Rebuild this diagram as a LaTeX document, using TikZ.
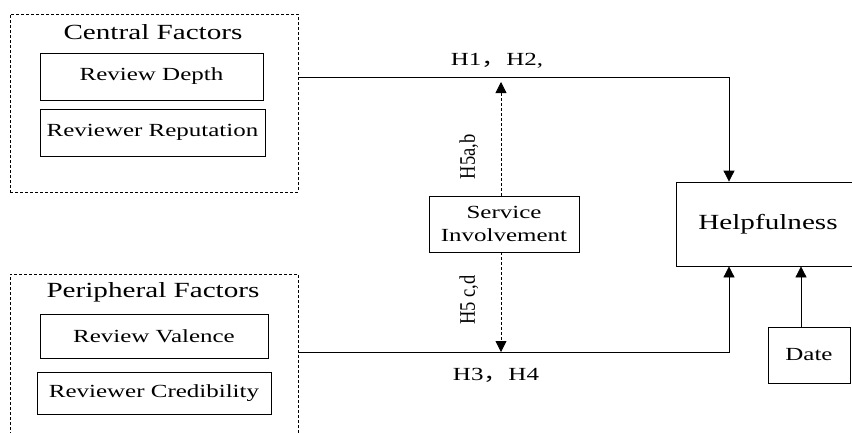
\documentclass[tikz,border=0pt]{standalone}
\usepackage{fontspec}
\usepackage{graphicx}
\setmainfont{Liberation Serif}[FakeStretch=1.35]
\newfontfamily\plainserif{Liberation Serif}
\newfontfamily\cjk{Noto Sans CJK SC}[FakeStretch=1.35]
\usetikzlibrary{arrows.meta}
\tikzset{
  boxed/.style={draw, line width=0.8pt, inner sep=0pt, align=center,
    font=\fontsize{18.5}{23}\selectfont},
  groupbox/.style={draw, line width=0.8pt, dash pattern=on 3pt off 2pt, inner sep=0pt},
  headtext/.style={inner sep=0pt, font=\fontsize{21.6}{24}\selectfont},
  labeltext/.style={inner sep=0pt, font=\fontsize{18.5}{22}\selectfont},
  conn/.style={line width=0.8pt, -{Triangle[width=11pt,length=11pt]}},
  dconn/.style={line width=0.8pt, dash pattern=on 3pt off 2pt, -{Triangle[width=11pt,length=11pt]}},
}
\newcommand{\rotlabel}[1]{\scalebox{1}[1.2]{\plainserif\fontsize{18.5}{20}\selectfont #1}}
\begin{document}
\begin{tikzpicture}[x=1pt, y=-1pt]
\useasboundingbox (0,0) rectangle (852,432);
% groups
\node[groupbox, minimum width=288pt, minimum height=178pt] (central) at (154,103) {};
\node[groupbox, minimum width=288pt, minimum height=166pt] (peri) at (154,357) {};
\node[headtext] (centraltitle) at (153,32) {Central Factors};
\node[headtext] (perititle) at (153,292) {Peripheral Factors};
% factor boxes
\node[boxed, minimum width=223pt, minimum height=47pt] (depth) at (151.5,76.5) {Review Depth};
\node[boxed, minimum width=225pt, minimum height=47pt] (rep) at (152.5,132.5) {Reviewer Reputation};
\node[boxed, minimum width=228pt, minimum height=44pt] (val) at (154,336) {Review Valence};
\node[boxed, minimum width=234pt, minimum height=42pt] (cred) at (154,393) {Reviewer Credibility};
% moderator
\node[boxed, minimum width=150pt, minimum height=56pt] (serv) at (504,224) {Service\\Involvement};
% outcome
\node[boxed, minimum width=184pt, minimum height=84pt, font=\fontsize{21.6}{24}\selectfont] (help) at (768,224) {Helpfulness};
\node[boxed, minimum width=82pt, minimum height=56pt] (date) at (809,355) {Date};
% routing coordinates
\coordinate (tc) at (729,77);
\coordinate (bc) at (729,352);
\coordinate (sx) at (501,0);
% connectors
\draw[conn] (central.east |- tc) -- (tc) -- (tc |- help.north);
\draw[conn] (peri.east |- bc) -- (bc) -- (bc |- help.south);
\draw[dconn, shorten >=5pt] (serv.north -| sx) -- (sx |- tc);
\draw[dconn] (serv.south -| sx) -- (sx |- bc);
\draw[conn] ([xshift=-8pt]date.north) -- ([xshift=-8pt]date.north |- help.south);
% labels
\node[labeltext] (h12) at (497,61) {H1{\cjk ，}H2,};
\node[labeltext] (h34) at (496,375) {H3{\cjk ，}H4};
\node[rotate=90, inner sep=0pt] (h5ab) at (469,157) {\rotlabel{H5a,b}};
\node[rotate=90, inner sep=0pt] (h5cd) at (469,300) {\rotlabel{H5 c,d}};
\end{tikzpicture}
\end{document}
